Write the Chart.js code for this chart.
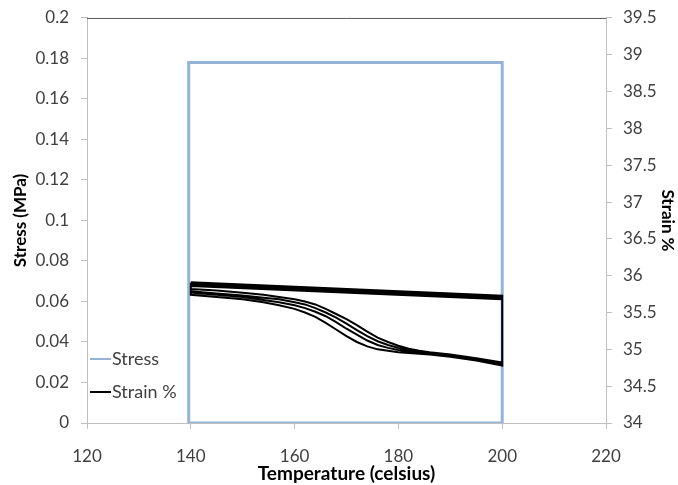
<!DOCTYPE html>
<html>
<head>
<meta charset="utf-8">
<script src="https://cdn.jsdelivr.net/npm/chart.js@4.4.1/dist/chart.umd.min.js"></script>
<style>
  html, body { margin: 0; padding: 0; background: #fff; }
  #wrap { width: 678px; height: 485px; }
</style>
</head>
<body>
<div id="wrap"><canvas id="chart" width="678" height="485"></canvas></div>
<script>
// stress loop (temperature, MPa)
const stressTemp = [140, 139.6, 139.6, 140, 200, 200, 140];
const stressVal = [0, 0, 0.178, 0.178, 0.178, 0, 0];

// heating lines of each cycle (start at 140, end at 200)
const heatStart = [35.91, 35.89, 35.87, 35.86];
const heatEnd = [35.73, 35.71, 35.70, 35.68];

// cooling curves, 200 -> 140
const coolTemp = [200, 195, 190, 186, 184, 182, 180, 178, 176, 174, 172, 170, 168, 166, 164, 162, 160, 157, 154, 150, 145, 140];
const coolA = [34.78, 34.85, 34.90, 34.93, 34.94, 34.95, 34.96, 34.98, 35.00, 35.04, 35.10, 35.18, 35.27, 35.36, 35.44, 35.50, 35.55, 35.60, 35.64, 35.68, 35.71, 35.74];
const coolB = [34.79, 34.86, 34.91, 34.94, 34.95, 34.97, 34.99, 35.02, 35.06, 35.12, 35.20, 35.28, 35.37, 35.45, 35.51, 35.56, 35.60, 35.64, 35.67, 35.71, 35.74, 35.77];
const coolC = [34.80, 34.87, 34.92, 34.95, 34.97, 34.99, 35.02, 35.06, 35.11, 35.18, 35.26, 35.35, 35.43, 35.50, 35.56, 35.61, 35.64, 35.68, 35.70, 35.73, 35.76, 35.79];
const coolD = [34.82, 34.88, 34.93, 34.96, 34.98, 35.01, 35.05, 35.10, 35.16, 35.24, 35.33, 35.41, 35.48, 35.55, 35.61, 35.65, 35.68, 35.71, 35.74, 35.77, 35.80, 35.82];
const coolCurves = [coolA, coolB, coolC, coolD];

const xTicks = [120, 140, 160, 180, 200, 220];

const stressPoints = stressTemp.map((t, i) => ({x: t, y: stressVal[i]}));
let strainPoints = [];
for (let c = 0; c < coolCurves.length; c++) {
    strainPoints.push({x: 140, y: heatStart[c]});
    strainPoints.push({x: 200, y: heatEnd[c]});
    for (let i = 0; i < coolTemp.length; i++)
        strainPoints.push({x: coolTemp[i], y: coolCurves[c][i]});
}

const textColor = '#404040';
const axisColor = '#bfbfbf';
const fontFam = 'Lato, "Open Sans", sans-serif';

const frame = {
    id: 'frame',
    afterDatasetsDraw(chart) {
        const a = chart.chartArea, ctx = chart.ctx;
        ctx.save();
        ctx.strokeStyle = '#595959';
        ctx.lineWidth = 1;
        ctx.beginPath();
        ctx.moveTo(a.left, a.top + 0.5);
        ctx.lineTo(a.right, a.top + 0.5);
        ctx.stroke();
        // legend inside plot area
        const items = chart.data.datasets;
        ctx.font = '18px ' + fontFam;
        ctx.textBaseline = 'middle';
        items.forEach((ds, i) => {
            const y = 359 + i * 33;
            ctx.strokeStyle = ds.borderColor;
            ctx.lineWidth = 2;
            ctx.beginPath();
            ctx.moveTo(90, y);
            ctx.lineTo(111, y);
            ctx.stroke();
            ctx.fillStyle = textColor;
            ctx.fillText(ds.label, 112, y);
        });
        ctx.restore();
    }
};

new Chart(document.getElementById('chart'), {
    type: 'scatter',
    data: {
        datasets: [{
            label: 'Stress',
            data: stressPoints,
            showLine: true,
            borderColor: '#95b3d7',
            borderWidth: 3,
            pointRadius: 0,
            yAxisID: 'y',
            order: 1
        }, {
            label: 'Strain %',
            data: strainPoints,
            showLine: true,
            borderColor: '#000000',
            borderWidth: 2,
            pointRadius: 0,
            yAxisID: 'y2',
            order: 0
        }]
    },
    options: {
        responsive: false,
        animation: false,
        layout: { padding: { top: 0, left: 0, right: 0, bottom: 0 } },
        plugins: { legend: { display: false }, tooltip: { enabled: false } },
        scales: {
            x: {
                type: 'linear', min: 120, max: 220,
                afterBuildTicks: s => { s.ticks = xTicks.map(v => ({value: v})); },
                afterFit: s => { s.height = 62; },
                grid: { drawOnChartArea: false, tickLength: 6, color: axisColor },
                border: { color: axisColor },
                ticks: { color: textColor, font: { family: fontFam, size: 17 }, padding: 17 },
                title: { display: true, text: 'Temperature (celsius)', color: '#000', padding: 0,
                    font: { family: fontFam, size: 19, weight: 'bold' } }
            },
            y: {
                position: 'left', min: 0, max: 0.2,
                afterFit: s => { s.width = 87; },
                grid: { drawOnChartArea: false, tickLength: 6, color: axisColor },
                border: { color: axisColor },
                ticks: { stepSize: 0.02, color: textColor, padding: 12,
                    font: { family: fontFam, size: 17, lineHeight: 0.7 },
                    callback: v => String(+v.toFixed(2)) },
                title: { display: true, text: 'Stress (MPa)', color: '#000', padding: 10,
                    font: { family: fontFam, size: 17, weight: 'bold' } }
            },
            y2: {
                position: 'right', min: 34, max: 39.5,
                afterFit: s => { s.width = 72; },
                grid: { drawOnChartArea: false, tickLength: 6, color: axisColor },
                border: { color: axisColor },
                ticks: { stepSize: 0.5, color: textColor, padding: 11,
                    font: { family: fontFam, size: 17, lineHeight: 0.7 },
                    callback: v => String(+v.toFixed(1)) },
                title: { display: true, text: 'Strain %', color: '#000', padding: 0,
                    font: { family: fontFam, size: 17, weight: 'bold' } }
            }
        }
    },
    plugins: [frame]
});
</script>
</body>
</html>
